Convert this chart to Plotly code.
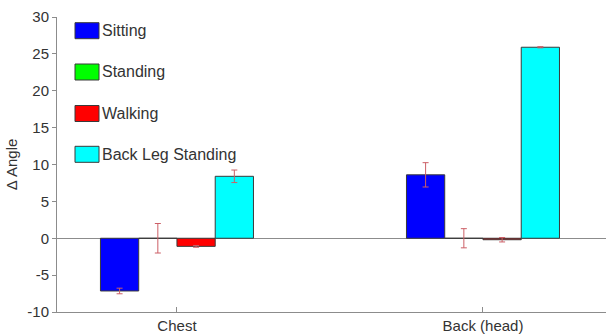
import plotly.graph_objects as go

categories = ["Chest", "Back (head)"]
series = ["Sitting", "Standing", "Walking", "Back Leg Standing"]
colors = ["#0000ff", "#00ff00", "#ff0000", "#00ffff"]
values = {
    "Sitting": [-7.15, 8.6],
    "Standing": [0.0, 0.0],
    "Walking": [-1.1, -0.2],
    "Back Leg Standing": [8.4, 25.9],
}
errors = {
    "Sitting": [0.38, 1.65],
    "Standing": [2.0, 1.3],
    "Walking": [0.12, 0.3],
    "Back Leg Standing": [0.85, 0.08],
}
yticks = [-10, -5, 0, 5, 10, 15, 20, 25, 30]
yticktext = ["-10", "-5", "0", "5", "10", "15", "20", "25", "30"]

xpos = [1, 2]
fig = go.Figure()
for name, col in zip(series, colors):
    fig.add_trace(go.Bar(
        x=xpos, y=values[name], name=name,
        marker=dict(color=col, line=dict(color="#3a3a3a", width=1)),
        error_y=dict(type="data", array=errors[name], color="#cc5f66",
                     thickness=1, width=3),
        showlegend=False,
    ))

# legend drawn as boxes + text (MATLAB-like)
W, H = 549.0, 295.0
legend_y = [30.7, 72.0, 113.5, 154.3]
for name, col, cy in zip(series, colors, legend_y):
    y0 = (312 - (cy + 8)) / H
    y1 = (312 - (cy - 8)) / H
    fig.add_shape(type="rect", xref="paper", yref="paper",
                  x0=18 / W, x1=42 / W, y0=y0, y1=y1,
                  fillcolor=col, line=dict(color="#3a3a3a", width=1))
    fig.add_annotation(xref="paper", yref="paper", x=43 / W, y=(312 - cy) / H,
                       text=name, showarrow=False, xanchor="left", yanchor="middle",
                       font=dict(size=16, color="#333333"))

fig.update_layout(
    width=606, height=334,
    margin=dict(l=57, r=0, t=17, b=22),
    paper_bgcolor="white", plot_bgcolor="white",
    barmode="group", bargap=0.5, bargroupgap=0,
    font=dict(family="Liberation Sans, Arial, sans-serif", size=15, color="#333333"),
)
fig.update_xaxes(
    range=[0.608, 2.402], tickvals=xpos, ticktext=categories,
    showgrid=False, zeroline=False, showline=True, linecolor="#8c8c8c",
    ticks="inside", ticklen=5, tickcolor="#8c8c8c", automargin=False,
    tickfont=dict(size=15),
)
fig.update_yaxes(
    range=[-10, 30], tickvals=yticks, ticktext=yticktext,
    showgrid=False, zeroline=True, zerolinecolor="#8c8c8c", zerolinewidth=1,
    showline=True, linecolor="#8c8c8c",
    ticks="outside", ticklen=4, tickcolor="#8c8c8c", automargin=False,
    tickfont=dict(size=15),
    title=dict(text="Δ Angle", font=dict(size=15), standoff=6),
)

fig.write_html(
    "out.html",
    config={"displayModeBar": False},
    post_script="document.body.style.margin='0';document.body.style.overflow='hidden';",
)
